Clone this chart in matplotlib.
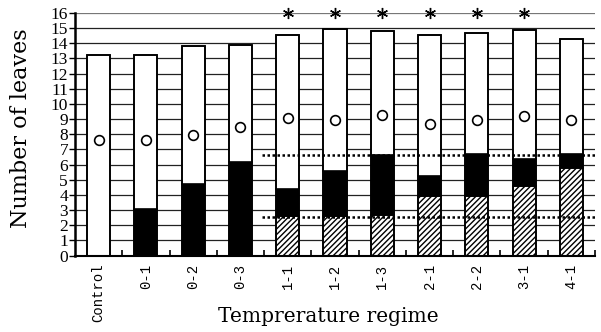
import numpy as np
import matplotlib
matplotlib.use("Agg")
import matplotlib.pyplot as plt

# --- Data ---
categories = ['Control', '0-1', '0-2', '0-3', '1-1', '1-2', '1-3',
              '2-1', '2-2', '3-1', '4-1']
total_leaves = [13.2, 13.2, 13.8, 13.9, 14.55, 14.95, 14.8, 14.55, 14.7, 14.85, 14.3]
hatched_top = [0, 0, 0, 0, 2.6, 2.6, 2.65, 3.95, 3.95, 4.6, 5.75]
black_top = [0, 3.05, 4.75, 6.2, 4.4, 5.6, 6.65, 5.25, 6.7, 6.4, 6.7]
mean_node = [7.6, 7.6, 7.95, 8.5, 9.1, 8.95, 9.25, 8.7, 8.95, 9.2, 8.95]
significant = [False, False, False, False, True, True, True, True, True, True, False]
ref_levels = [2.55, 6.6]

serif = ['DejaVu Serif']
tick_serif = ['Liberation Serif', 'DejaVu Serif']

fig = plt.figure(figsize=(6.01, 3.32), dpi=100)
ax = fig.add_axes([0.1248, 0.2304, 0.8652, 0.7304])

x = np.arange(len(categories))
w = 0.49

# horizontal grid lines behind the bars
for yv in range(1, 17):
    ax.axhline(yv, color='#222222' if yv < 16 else '#777777', lw=0.9, zorder=0)

hatched = np.array(hatched_top)
black = np.array(black_top) - hatched
black[black < 0] = 0
white = np.array(total_leaves) - np.maximum(hatched, np.array(black_top))

ax.bar(x, hatched, w, color='white', edgecolor='black', hatch='//////',
       lw=1.2, zorder=2)
ax.bar(x, black, w, bottom=hatched, color='black', edgecolor='black',
       lw=1.2, zorder=2)
ax.bar(x, white, w, bottom=np.maximum(hatched, black_top), color='white',
       edgecolor='black', lw=1.2, zorder=2)
# outline of full bar
ax.bar(x, total_leaves, w, fill=False, edgecolor='black', lw=1.2, zorder=3)

ax.plot(x, mean_node, 'o', ms=7, mfc='white', mec='black', mew=1.2, zorder=4)

for lvl in ref_levels:
    ax.plot([3.45, 10.5], [lvl, lvl], color='black', lw=1.8,
            linestyle=(0, (1, 1)), zorder=5)

sx = x[np.array(significant)]
ax.plot(sx, [16.0] * len(sx), linestyle='none', marker=(6, 2, 0), ms=8,
        mew=1.0, color='black', clip_on=False, zorder=6)

ax.set_xlim(-0.5, 10.5)
ax.set_ylim(0, 16)
ax.set_yticks(range(0, 17))
ax.set_yticklabels([str(i) for i in range(0, 17)], family=tick_serif, fontsize=12.5)
ax.set_xticks(x)
ax.set_xticklabels(categories, rotation=90, family=['Liberation Mono'],
                   fontsize=10)
ax.set_xticks(np.arange(0.5, 10.6, 1.0), minor=True)
ax.tick_params(axis='x', which='major', length=0, pad=6)
ax.tick_params(axis='x', which='minor', direction='in', length=4, width=1.2)
ax.tick_params(axis='y', direction='out', length=4, width=1.0, pad=1)

for s in ['top', 'right']:
    ax.spines[s].set_visible(False)
ax.spines['left'].set_linewidth(1.8)
ax.spines['bottom'].set_linewidth(1.5)

ax.set_ylabel('Number of leaves', family=serif, fontsize=16)
ax.yaxis.set_label_coords(-0.083, 0.525)
ax.set_xlabel('Temprerature regime', family=serif, fontsize=14.5)
ax.xaxis.set_label_coords(0.488, -0.212)

fig.savefig('out.png', dpi=100)
